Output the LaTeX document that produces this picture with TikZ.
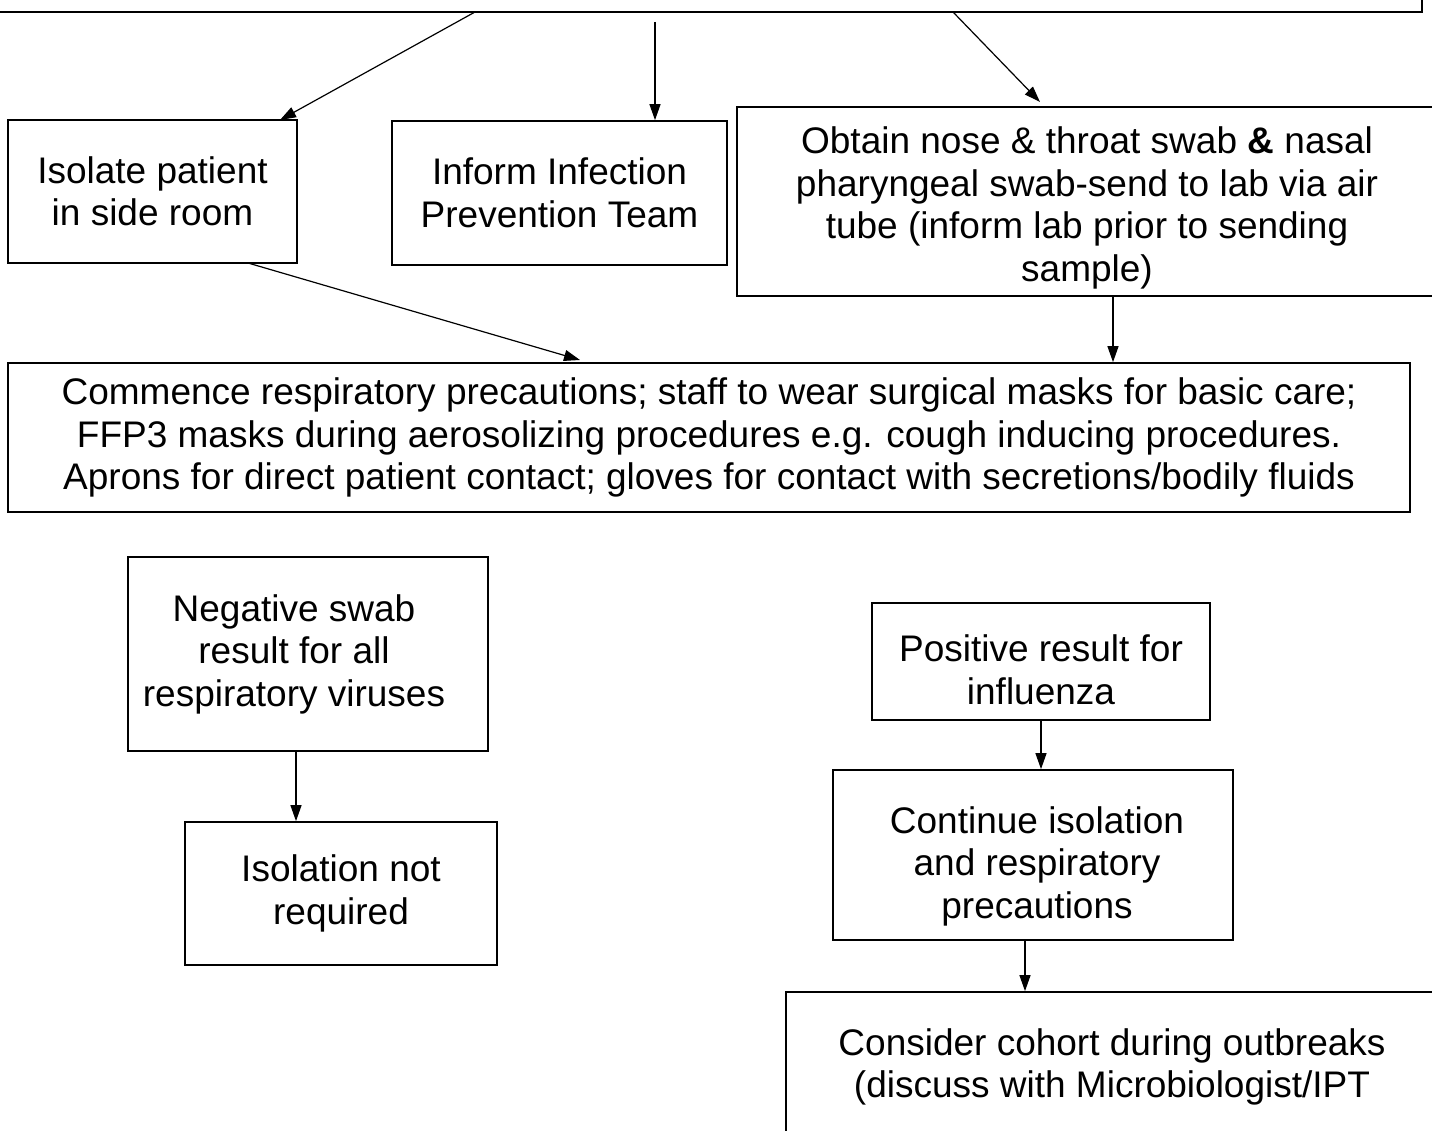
\documentclass[tikz,border=0pt]{standalone}
\usepackage{fontspec}
\setmainfont{Liberation Sans}
\usetikzlibrary{arrows.meta}
\begin{document}
\begin{tikzpicture}[x=1pt,y=-1pt,
  txt/.style={align=center,inner sep=0pt,font=\fontsize{37}{42.5}\selectfont},
  box/.style={txt,draw=black,line width=1.7pt},
  arr/.style={draw=black,line width=1.2pt,-{Triangle[length=16pt,width=11pt]}}]
\useasboundingbox (0,0) rectangle (1432,1131);
\fill[white] (0,0) rectangle (1432,1131);
% top box (cut off)
\node[box,minimum width=1440pt,minimum height=112pt] (top) at (702,-44) {};
\node[box,minimum width=289pt,minimum height=143pt] (iso) at (152.5,191.5) {Isolate patient\\in side room};
\node[box,minimum width=335pt,minimum height=144pt] (inf) at (559.5,193) {Inform Infection\\Prevention Team};
\node[box,minimum width=700pt,minimum height=189pt] (obt) at (1087,201.5) {};
\node[txt] (obtt) at (1087,208) {Obtain nose \& throat swab \textbf{\&} nasal\\pharyngeal swab-send to lab via air\\tube (inform lab prior to sending\\sample)};
\node[box,minimum width=1402pt,minimum height=149pt] (com) at (709,437.5) {Commence respiratory precautions; staff to wear surgical masks for basic care;\\FFP3 masks during aerosolizing procedures e.g. cough inducing procedures.\\Aprons for direct patient contact; gloves for contact with secretions/bodily fluids};
\node[box,minimum width=360pt,minimum height=194pt] (neg) at (308,654) {\hspace*{-28pt}Negative swab\\\hspace*{-28pt}result for all\\\hspace*{-28pt}respiratory viruses};
\node[box,minimum width=312pt,minimum height=143pt] (inr) at (341,893.5) {Isolation not\\required};
\node[box,minimum width=338pt,minimum height=117pt] (pos) at (1041,661.5) {};
\node[txt] (post) at (1041,670) {Positive result for\\influenza};
\node[box,minimum width=400pt,minimum height=170pt] (con) at (1033,855) {};
\node[txt] (cont) at (1037,866) {Continue isolation\\and respiratory\\precautions};
\node[box,minimum width=652pt,minimum height=150pt] (cns) at (1112,1067) {Consider cohort during outbreaks\\(discuss with Microbiologist/IPT};
% connector end points
\coordinate (a1) at (475,12);
\coordinate (a1e) at (280,120);
\coordinate (a2) at (655,22);
\coordinate (a3) at (953,12);
\coordinate (a3e) at (1040,102);
\coordinate (a4) at (248,263);
\coordinate (a4e) at (580,360);
\draw[arr] (a1) -- (a1e);
\draw[arr] (a2) -- (a2 |- inf.north);
\draw[arr] (a3) -- (a3e);
\draw[arr] (a4) -- (a4e);
\draw[arr] (obt.south -| 1113,0) -- (com.north -| 1113,0);
\draw[arr] (neg.south -| 296,0) -- (inr.north -| 296,0);
\draw[arr] (pos.south -| 1041,0) -- (con.north -| 1041,0);
\draw[arr] (con.south -| 1025,0) -- (cns.north -| 1025,0);
\end{tikzpicture}
\end{document}
